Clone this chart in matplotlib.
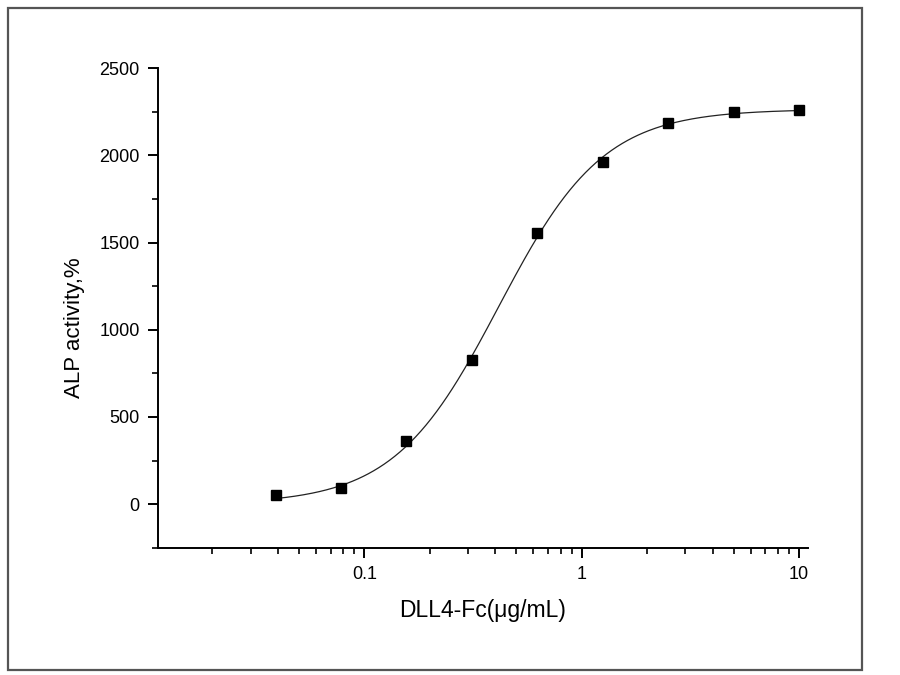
import numpy as np
import matplotlib
matplotlib.use("Agg")
import matplotlib.pyplot as plt
from matplotlib.patches import Rectangle
from matplotlib.ticker import LogLocator, FixedLocator, NullFormatter, FuncFormatter

plt.rcParams['font.family'] = ['Liberation Sans', 'DejaVu Sans']

# Data
dll4_conc = [0.0390625, 0.078125, 0.15625, 0.3125, 0.625, 1.25, 2.5, 5, 10]
alp_activity = [54, 92, 360, 827, 1558, 1960, 2184, 2247, 2258]

# Fitted four-parameter logistic curve (parameters)
fit_bottom = 0
fit_top = 2265
fit_ec50 = 0.415
fit_hill = 1.8

y_ticks = [0, 500, 1000, 1500, 2000, 2500]
x_tick_labels = ["0.1", "1", "10"]
x_tick_values = [0.1, 1, 10]
x_label = "DLL4-Fc(μg/mL)"
y_label = "ALP activity,%"

fig = plt.figure(figsize=(9, 6.75), dpi=100)
ax = fig.add_axes([0.1752, 0.1886, 0.8978 - 0.1752, 0.8988 - 0.1886])

xs = np.logspace(np.log10(min(dll4_conc)), np.log10(max(dll4_conc)), 300)
ys = fit_top + (fit_bottom - fit_top) / (1 + (xs / fit_ec50) ** fit_hill)
ax.plot(xs, ys, color='#222222', lw=0.9, zorder=2)
ax.plot(dll4_conc, alp_activity, linestyle='none', marker='s', ms=6.8,
        color='black', zorder=3)

ax.set_xscale('log')
ax.set_xlim(0.0112, 11.0)
ax.set_ylim(-250, 2500)

ax.xaxis.set_major_locator(FixedLocator(x_tick_values))
ax.xaxis.set_major_formatter(FuncFormatter(lambda v, p: x_tick_labels[x_tick_values.index(v)] if v in x_tick_values else ""))
ax.xaxis.set_minor_locator(LogLocator(base=10, subs=np.arange(2, 10), numticks=20))
ax.xaxis.set_minor_formatter(NullFormatter())
ax.yaxis.set_major_locator(FixedLocator(y_ticks))
ax.yaxis.set_minor_locator(FixedLocator([-250, 250, 750, 1250, 1750, 2250]))

for s in ['top', 'right']:
    ax.spines[s].set_visible(False)
for s in ['left', 'bottom']:
    ax.spines[s].set_linewidth(1.4)
ax.tick_params(which='major', direction='out', length=7, width=1.4, labelsize=13)
ax.tick_params(axis='y', which='major', pad=6)
ax.tick_params(axis='x', which='major', pad=6)
ax.tick_params(which='minor', direction='out', length=4, width=1.2)

ax.set_xlabel(x_label, fontsize=16.5, labelpad=12)
ax.set_ylabel(y_label, fontsize=16, labelpad=12)
ax.yaxis.set_label_coords(-0.112, 0.458)

fig.patches.append(Rectangle((8 / 900, 1 - 670 / 675), (862 - 8) / 900, (670 - 8) / 675,
                             transform=fig.transFigure, fill=False,
                             edgecolor='#555555', lw=1.6, zorder=0))

fig.savefig('out.png', dpi=100)
